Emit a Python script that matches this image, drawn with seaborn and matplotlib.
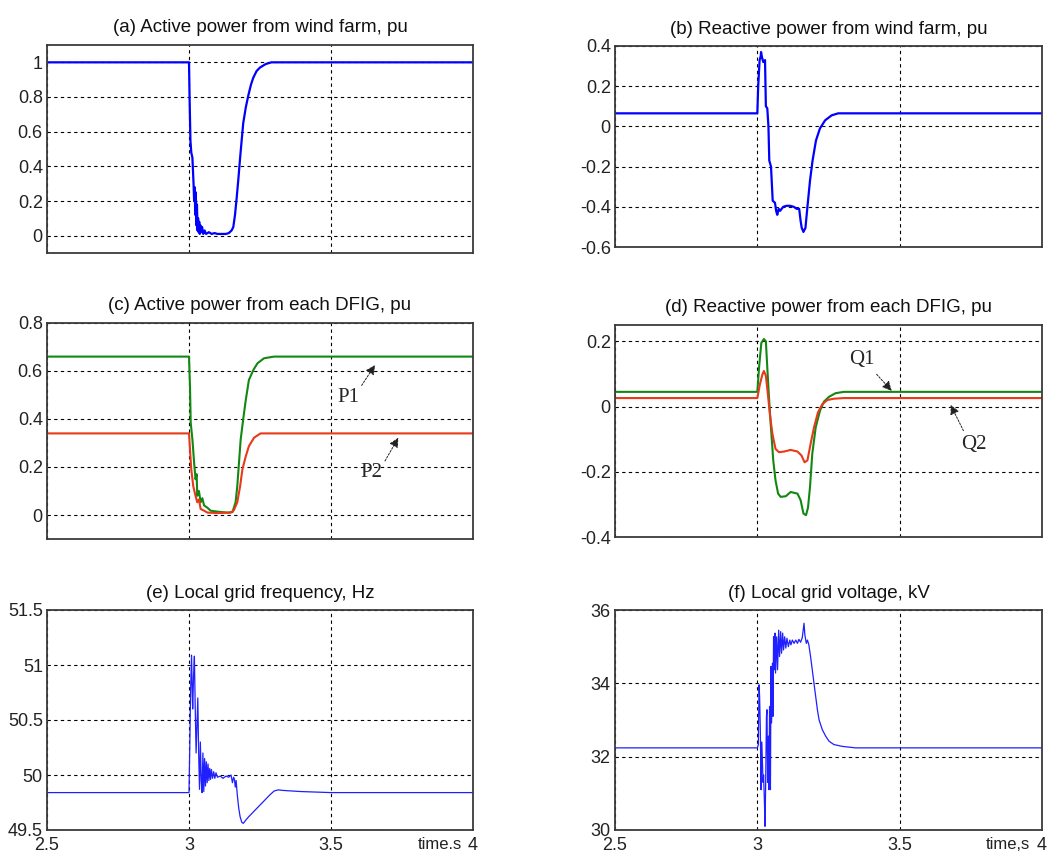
import matplotlib
matplotlib.use("Agg")
import matplotlib.pyplot as plt
import seaborn as sns

# ---------------- data ----------------
x_ticks = [2.5, 3.0, 3.5, 4.0]
x_tick_labels = ["2.5", "3", "3.5", "4"]

# (a) active power from wind farm
a_t = [2.5, 3.0, 3.002, 3.005, 3.008, 3.012, 3.016, 3.018, 3.020, 3.022, 3.024, 3.026, 3.028, 3.030,
       3.032, 3.034, 3.036, 3.038, 3.040, 3.043, 3.046, 3.050, 3.055, 3.060, 3.070, 3.080, 3.090, 3.100,
       3.110, 3.120, 3.130, 3.140, 3.150, 3.156, 3.162, 3.168, 3.174, 3.180, 3.186, 3.191, 3.200, 3.209,
       3.218, 3.226, 3.238, 3.250, 3.270, 3.290, 4.0]
a_p = [1.0, 1.0, 0.8, 0.55, 0.48, 0.45, 0.3, 0.2, 0.28, 0.12, 0.25, 0.06, 0.18, 0.03, 0.1, 0.02, 0.08,
       0.01, 0.06, 0.02, 0.05, 0.01, 0.03, 0.01, 0.02, 0.01, 0.015, 0.01, 0.01, 0.01, 0.01, 0.015, 0.03,
       0.05, 0.12, 0.22, 0.33, 0.45, 0.56, 0.65, 0.74, 0.81, 0.87, 0.91, 0.95, 0.97, 0.99, 1.0, 1.0]
a_yticks = [0, 0.2, 0.4, 0.6, 0.8, 1.0]
a_ylabels = ["0", "0.2", "0.4", "0.6", "0.8", "1"]

# (b) reactive power from wind farm
b_t = [2.5, 3.0, 3.003, 3.008, 3.012, 3.013, 3.017, 3.021, 3.027, 3.030, 3.035, 3.039, 3.042, 3.048,
       3.054, 3.062, 3.066, 3.070, 3.075, 3.080, 3.091, 3.103, 3.115, 3.128, 3.138, 3.147, 3.152, 3.156,
       3.162, 3.169, 3.176, 3.185, 3.194, 3.206, 3.220, 3.238, 3.261, 3.284, 4.0]
b_q = [0.065, 0.065, 0.2, 0.33, 0.35, 0.37, 0.34, 0.32, 0.33, 0.1, 0.09, 0.0, -0.17, -0.2, -0.37, -0.38,
       -0.42, -0.44, -0.41, -0.42, -0.40, -0.395, -0.395, -0.40, -0.41, -0.41, -0.47, -0.505, -0.525,
       -0.505, -0.40, -0.27, -0.17, -0.07, -0.01, 0.03, 0.055, 0.065, 0.065]
b_yticks = [-0.6, -0.4, -0.2, 0, 0.2, 0.4]
b_ylabels = ["-0.6", "-0.4", "-0.2", "0", "0.2", "0.4"]

# (c) active power from each DFIG
c_t1 = [2.5, 3.0, 3.0035, 3.006, 3.012, 3.018, 3.023, 3.027, 3.029, 3.035, 3.041, 3.047, 3.053, 3.065,
        3.076, 3.100, 3.135, 3.153, 3.164, 3.170, 3.176, 3.182, 3.191, 3.200, 3.211, 3.227, 3.241, 3.264,
        3.299, 4.0]
c_p1 = [0.66, 0.66, 0.535, 0.384, 0.315, 0.218, 0.149, 0.17, 0.08, 0.1, 0.053, 0.07, 0.04, 0.03, 0.018,
        0.014, 0.01, 0.012, 0.053, 0.12, 0.218, 0.315, 0.40, 0.48, 0.563, 0.605, 0.632, 0.653, 0.66, 0.66]
c_t2 = [2.5, 3.0, 3.0035, 3.008, 3.015, 3.023, 3.029, 3.035, 3.041, 3.053, 3.065, 3.100, 3.147, 3.158,
        3.170, 3.180, 3.188, 3.200, 3.211, 3.229, 3.252, 4.0]
c_p2 = [0.34, 0.34, 0.273, 0.19, 0.12, 0.08, 0.053, 0.065, 0.025, 0.018, 0.01, 0.008, 0.01, 0.02, 0.053,
        0.12, 0.19, 0.245, 0.287, 0.322, 0.34, 0.34]
c_yticks = [0, 0.2, 0.4, 0.6, 0.8]
c_ylabels = ["0", "0.2", "0.4", "0.6", "0.8"]

# (d) reactive power from each DFIG
d_t1 = [2.5, 3.0, 3.006, 3.014, 3.023, 3.030, 3.035, 3.041, 3.047, 3.056, 3.064, 3.073, 3.082, 3.100,
        3.117, 3.141, 3.152, 3.162, 3.171, 3.178, 3.185, 3.193, 3.205, 3.220, 3.234, 3.252, 3.275, 3.304, 4.0]
d_q1 = [0.045, 0.045, 0.119, 0.195, 0.207, 0.2, 0.119, 0.027, -0.054, -0.166, -0.227, -0.267, -0.277,
        -0.275, -0.262, -0.267, -0.287, -0.328, -0.333, -0.31, -0.247, -0.145, -0.064, -0.013, 0.015,
        0.03, 0.041, 0.045, 0.045]
d_t2 = [2.5, 3.0, 3.009, 3.018, 3.023, 3.030, 3.037, 3.044, 3.053, 3.064, 3.076, 3.094, 3.117, 3.141,
        3.155, 3.166, 3.176, 3.187, 3.199, 3.213, 3.228, 3.246, 3.269, 3.304, 4.0]
d_q2 = [0.026, 0.026, 0.068, 0.099, 0.109, 0.094, 0.038, -0.023, -0.084, -0.13, -0.14, -0.138, -0.133,
        -0.138, -0.15, -0.171, -0.165, -0.115, -0.064, -0.018, 0.007, 0.02, 0.024, 0.026, 0.026]
d_yticks = [-0.4, -0.2, 0, 0.2]
d_ylabels = ["-0.4", "-0.2", "0", "0.2"]

# (e) local grid frequency
e_t = [2.5, 3.0, 3.001, 3.003, 3.006, 3.009, 3.011, 3.013, 3.016, 3.019, 3.022, 3.025, 3.028, 3.031,
       3.034, 3.037, 3.040, 3.043, 3.046, 3.049, 3.052, 3.055, 3.058, 3.061, 3.064, 3.067, 3.070, 3.073,
       3.076, 3.079, 3.083, 3.087, 3.091, 3.095, 3.100, 3.110, 3.120, 3.130, 3.140, 3.148, 3.153, 3.157,
       3.160, 3.163, 3.166, 3.170, 3.175, 3.180, 3.186, 3.191, 3.200, 3.210, 3.225, 3.240, 3.255, 3.270,
       3.285, 3.300, 3.315, 3.330, 3.360, 3.390, 3.500, 4.0]
e_f = [49.84, 49.84, 50.0, 50.3, 50.8, 51.09, 50.8, 50.6, 50.9, 51.08, 50.6, 50.2, 50.45, 50.7, 50.2,
       49.87, 50.3, 49.95, 49.84, 50.2, 49.85, 50.15, 49.9, 50.12, 49.93, 50.1, 49.95, 50.06, 49.96, 50.05,
       49.97, 50.03, 49.97, 50.02, 49.98, 49.99, 49.97, 49.99, 49.98, 50.0, 49.93, 49.98, 49.96, 49.89,
       49.95, 49.82, 49.70, 49.62, 49.57, 49.56, 49.59, 49.62, 49.66, 49.70, 49.74, 49.78, 49.82, 49.855,
       49.865, 49.86, 49.855, 49.85, 49.84, 49.84]
e_yticks = [49.5, 50, 50.5, 51, 51.5]
e_ylabels = ["49.5", "50", "50.5", "51", "51.5"]

# (f) local grid voltage
f_t = [2.5, 3.0, 3.0035, 3.006, 3.008, 3.0105, 3.013, 3.015, 3.018, 3.020, 3.022, 3.025, 3.027, 3.029,
       3.032, 3.034, 3.036, 3.039, 3.041, 3.043, 3.046, 3.048, 3.050, 3.053, 3.055, 3.057, 3.060, 3.062,
       3.064, 3.068, 3.071, 3.075, 3.078, 3.082, 3.085, 3.089, 3.092, 3.096, 3.100, 3.104, 3.109, 3.114,
       3.118, 3.123, 3.129, 3.135, 3.141, 3.146, 3.152, 3.158, 3.164, 3.167, 3.172, 3.176, 3.181, 3.187,
       3.193, 3.199, 3.205, 3.211, 3.217, 3.228, 3.240, 3.252, 3.269, 3.299, 3.345, 4.0]
f_v = [32.24, 32.24, 32.33, 33.96, 33.64, 32.74, 31.1, 32.4, 31.83, 31.3, 31.5, 30.74, 30.1, 31.1, 33.1,
       33.28, 31.3, 32.56, 31.1, 33.37, 31.1, 34.46, 32.92, 34.55, 33.1, 35.27, 34.37, 35.37, 34.28, 35.27,
       34.37, 35.45, 34.73, 35.41, 34.82, 35.37, 34.91, 35.27, 34.96, 35.23, 35.0, 35.18, 35.05, 35.18,
       35.09, 35.18, 35.09, 35.2, 35.12, 35.25, 35.64, 35.32, 35.09, 35.18, 35.05, 34.73, 34.37, 34.0,
       33.64, 33.28, 33.0, 32.74, 32.56, 32.42, 32.33, 32.28, 32.24, 32.24]
f_yticks = [30, 32, 34, 36]
f_ylabels = ["30", "32", "34", "36"]

titles = ["(a) Active power from wind farm, pu",
          "(b) Reactive power from wind farm, pu",
          "(c) Active power from each DFIG, pu",
          "(d) Reactive power from each DFIG, pu",
          "(e) Local grid frequency, Hz",
          "(f) Local grid voltage, kV"]

# ---------------- figure ----------------
sns.set_theme(style="white")
plt.rcParams["font.family"] = ["Liberation Sans", "DejaVu Sans"]
plt.rcParams["axes.unicode_minus"] = False

W, H = 1057, 856
fig = plt.figure(figsize=(W / 100, H / 100), dpi=100)


def rect(l, t, r, b):
    return [l / W, 1 - b / H, (r - l) / W, (b - t) / H]


ax_a = fig.add_axes(rect(47, 45, 473, 253))
ax_b = fig.add_axes(rect(615, 46, 1042, 247))
ax_c = fig.add_axes(rect(47, 323, 473, 539))
ax_d = fig.add_axes(rect(615, 325, 1042, 537))
ax_e = fig.add_axes(rect(47, 610, 473, 830))
ax_f = fig.add_axes(rect(615, 610, 1042, 830))

BLUE = "#0000ff"
GREEN = "#118811"
RED = "#e8391a"

kw = dict(estimator=None, errorbar=None, sort=False)
sns.lineplot(x=a_t, y=a_p, ax=ax_a, color=BLUE, linewidth=1.6, **kw)
sns.lineplot(x=b_t, y=b_q, ax=ax_b, color=BLUE, linewidth=1.6, **kw)
sns.lineplot(x=c_t1, y=c_p1, ax=ax_c, color=GREEN, linewidth=1.5, **kw)
sns.lineplot(x=c_t2, y=c_p2, ax=ax_c, color=RED, linewidth=1.5, **kw)
sns.lineplot(x=d_t1, y=d_q1, ax=ax_d, color=GREEN, linewidth=1.5, **kw)
sns.lineplot(x=d_t2, y=d_q2, ax=ax_d, color=RED, linewidth=1.5, **kw)
sns.lineplot(x=e_t, y=e_f, ax=ax_e, color="#1f1fff", linewidth=0.9, **kw)
sns.lineplot(x=f_t, y=f_v, ax=ax_f, color="#1f1fff", linewidth=0.9, **kw)


def style(ax, title, yticks, ylabels, ylim, bottom):
    ax.set_xlim(2.5, 4.0)
    ax.set_ylim(*ylim)
    ax.set_xticks(x_ticks)
    ax.set_xticklabels(x_tick_labels if bottom else [])
    ax.set_yticks(yticks)
    ax.set_yticklabels(ylabels)
    ax.set_xlabel("")
    ax.set_ylabel("")
    ax.grid(True, color="black", linestyle=(0, (3, 3)), linewidth=0.8)
    ax.set_axisbelow(True)
    ax.tick_params(axis="both", length=0, labelsize=13, colors="#222222")
    ax.tick_params(axis="y", pad=3)
    ax.tick_params(axis="x", pad=5)
    for s in ax.spines.values():
        s.set_visible(True)
        s.set_color("#3a3a3a")
        s.set_linewidth(1.3)
    ax.set_title(title, fontsize=13.5, pad=9, color="#111111")


style(ax_a, titles[0], a_yticks, a_ylabels, (-0.1, 1.1), False)
style(ax_b, titles[1], b_yticks, b_ylabels, (-0.6, 0.4), False)
style(ax_c, titles[2], c_yticks, c_ylabels, (-0.1, 0.8), False)
style(ax_d, titles[3], d_yticks, d_ylabels, (-0.4, 0.25), False)
style(ax_e, titles[4], e_yticks, e_ylabels, (49.5, 51.5), True)
style(ax_f, titles[5], f_yticks, f_ylabels, (30, 36), True)

# time labels next to the last tick
ax_e.annotate("time.s", xy=(1, 0), xycoords="axes fraction", xytext=(-11, -7),
              textcoords="offset pixels", ha="right", va="top", fontsize=12, color="#222222")
ax_f.annotate("time,s", xy=(1, 0), xycoords="axes fraction", xytext=(-12, -7),
              textcoords="offset pixels", ha="right", va="top", fontsize=12, color="#222222")

# arrow annotations
arrow = dict(arrowstyle="-|>", color="#222222", lw=0.7, mutation_scale=14, shrinkA=0, shrinkB=0,
             linestyle=(0, (2, 1.5)))
serif = ["Liberation Serif", "DejaVu Serif"]

ax_c.annotate("", xy=(3.655, 0.625), xytext=(3.608, 0.54), arrowprops=arrow)
ax_c.text(3.56, 0.49, "P1", family=serif, fontsize=15, ha="center", va="center")
ax_c.annotate("", xy=(3.737, 0.322), xytext=(3.69, 0.225), arrowprops=arrow)
ax_c.text(3.643, 0.177, "P2", family=serif, fontsize=15, ha="center", va="center")

ax_d.annotate("", xy=(3.472, 0.048), xytext=(3.419, 0.099), arrowprops=arrow)
ax_d.text(3.367, 0.145, "Q1", family=serif, fontsize=15, ha="center", va="center")
ax_d.annotate("", xy=(3.679, 0.005), xytext=(3.724, -0.074), arrowprops=arrow)
ax_d.text(3.759, -0.115, "Q2", family=serif, fontsize=15, ha="center", va="center")

fig.savefig("out.png", dpi=100, facecolor="white")
